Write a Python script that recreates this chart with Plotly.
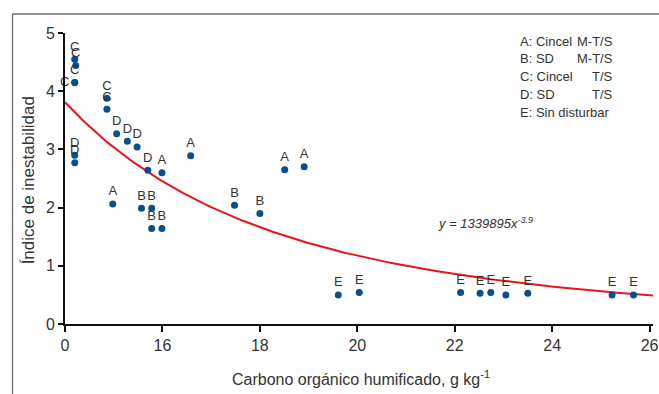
import numpy as np
import plotly.graph_objects as go

# ---- data ----
a_x = [14.98, 15.99, 16.58, 18.51, 18.91]
a_y = [2.06, 2.60, 2.89, 2.65, 2.70]

b_x = [15.57, 15.78, 15.78, 15.99, 17.48, 18.00]
b_y = [1.99, 1.99, 1.64, 1.64, 2.04, 1.90]

c_x = [14.20, 14.22, 14.20, 14.20, 14.86, 14.86]
c_y = [4.55, 4.44, 4.15, 4.15, 3.88, 3.69]
c_pos = ["top center", "top center", "top center", "middle left", "top center", "top center"]

d_x = [14.20, 14.20, 15.06, 15.28, 15.48, 15.70]
d_y = [2.90, 2.77, 3.27, 3.14, 3.04, 2.64]

e_x = [19.61, 20.04, 22.12, 22.52, 22.74, 23.05, 23.50, 25.23, 25.67]
e_y = [0.50, 0.54, 0.54, 0.53, 0.54, 0.50, 0.53, 0.50, 0.50]

# power trend as drawn (value at axis start and exponent)
trend_y_start = 3.81
trend_exp = 3.3
x_start, x_end = 14.0, 26.07

x_tickvals = [14, 16, 18, 20, 22, 24, 26]
x_ticktext = ["0", "16", "18", "20", "22", "24", "26"]
y_tickvals = [0, 1, 2, 3, 4, 5]

legend_left = ["A: Cincel", "B: SD", "C: Cincel", "D: SD", "E: Sin disturbar"]
legend_right = ["M-T/S", "M-T/S", "T/S", "T/S", ""]

# ---- figure ----
W, H = 659, 394
ML, MR, MT, MB = 65, 0, 33, 70
PW, PH = W - ML - MR, H - MT - MB


def px(x):
    return (x - ML) / PW


def py(y):
    return (H - MB - y) / PH


FONT = "Liberation Sans, Arial, sans-serif"
MARK = "#0a4f8c"
TXT = "#333333"

fig = go.Figure()

tx = np.linspace(x_start, x_end, 200)
ty = trend_y_start * (tx / x_start) ** (-trend_exp)
fig.add_trace(go.Scatter(x=tx, y=ty, mode="lines",
                         line=dict(color="#e8161b", width=2), hoverinfo="skip"))

groups = [("A", a_x, a_y, "top center"), ("B", b_x, b_y, "top center"),
          ("C", c_x, c_y, c_pos), ("D", d_x, d_y, "top center"),
          ("E", e_x, e_y, "top center")]
for lab, xs, ys, pos in groups:
    fig.add_trace(go.Scatter(
        x=xs, y=ys, mode="markers+text", text=[lab] * len(xs),
        textposition=pos, cliponaxis=False,
        textfont=dict(family=FONT, size=13, color=TXT),
        marker=dict(color=MARK, size=7), name=lab))

ann = []
ann.append(dict(text="Índice de inestabilidad", textangle=-90, x=px(28), y=py(180),
                xref="paper", yref="paper", showarrow=False,
                xanchor="center", yanchor="middle",
                font=dict(family=FONT, size=17, color=TXT)))
ann.append(dict(text="Carbono orgánico humificado, g kg<sup>-1</sup>", x=px(364), y=py(378),
                xref="paper", yref="paper", showarrow=False,
                xanchor="center", yanchor="middle",
                font=dict(family=FONT, size=16, color=TXT)))
ann.append(dict(text="<i>y = 1339895x<sup>-3.9</sup></i>", x=px(440), y=py(223),
                xref="paper", yref="paper", showarrow=False,
                xanchor="left", yanchor="middle",
                font=dict(family=FONT, size=13, color=TXT)))
line_y = [41, 58.5, 76, 94, 112]
for i, (l, r) in enumerate(zip(legend_left, legend_right)):
    ann.append(dict(text=l, x=px(523), y=py(line_y[i]), xref="paper", yref="paper",
                    showarrow=False, xanchor="left", yanchor="middle",
                    font=dict(family=FONT, size=13, color=TXT)))
    if r:
        ann.append(dict(text=r, x=px(621), y=py(line_y[i]), xref="paper", yref="paper",
                        showarrow=False, xanchor="right", yanchor="middle",
                        font=dict(family=FONT, size=13, color=TXT)))

fig.update_layout(
    width=W, height=H, autosize=False,
    margin=dict(l=ML, r=MR, t=MT, b=MB, pad=0),
    paper_bgcolor="white", plot_bgcolor="white",
    showlegend=False,
    annotations=ann,
    shapes=[dict(type="rect", xref="paper", yref="paper",
                 x0=px(12), x1=px(700), y0=py(450), y1=py(14),
                 line=dict(color="#707070", width=1.3), layer="below")],
    xaxis=dict(range=[x_start, x_end], tickvals=x_tickvals, ticktext=x_ticktext,
               showline=True, linecolor="#111", linewidth=2, ticks="outside",
               ticklen=6, tickwidth=1.5, tickcolor="#111", showgrid=False, zeroline=False,
               ticklabeloverflow="allow",
               tickfont=dict(family=FONT, size=16, color=TXT)),
    yaxis=dict(range=[0, 5], tickvals=y_tickvals,
               showline=True, linecolor="#111", linewidth=2, ticks="outside",
               ticklen=5, tickwidth=1.5, tickcolor="#111", showgrid=False, zeroline=False,
               tickfont=dict(family=FONT, size=16, color=TXT)),
)

fig.write_html("out.html", config={"responsive": False})
